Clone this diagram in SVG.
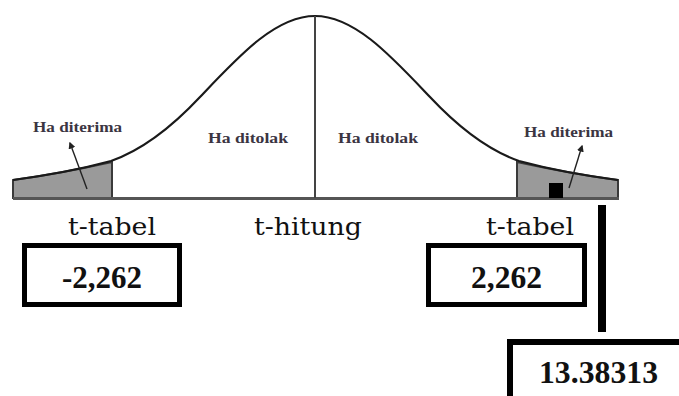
<svg xmlns="http://www.w3.org/2000/svg" width="679" height="396" viewBox="0 0 679 396">
<defs>
<style>
.curve{fill:none;stroke:#1a1a1a;stroke-width:2.2}
.shade{fill:#9a9a9a;stroke:#3a3a3a;stroke-width:2}
.base{stroke:#555;stroke-width:3}
.vline{stroke:#444;stroke-width:2}
.ha{font-family:"Liberation Serif",serif;font-weight:bold;font-size:14px;fill:#3b3542}
.lbl{font-family:"DejaVu Serif","Liberation Serif",serif;font-size:25px;fill:#111}
.val{font-family:"Liberation Serif",serif;font-weight:bold;font-size:32px;fill:#111}
.box{fill:#fff;stroke:#000;stroke-width:5}
.arr{stroke:#222;stroke-width:1.4;fill:none;marker-end:url(#ah)}
</style>
<marker id="ah" viewBox="0 0 10 10" refX="8" refY="5" markerWidth="7" markerHeight="7" orient="auto" markerUnits="userSpaceOnUse"><path d="M0,0 L10,5 L0,10 z" fill="#222"/></marker>
</defs>
<rect width="679" height="396" fill="#fff"/>
<g id="curve">
<path class="shade" d="M13,180 C50,175 85,168 112,162 L112,198 L13,198 Z"/>
<path class="shade" d="M517,162 C545,168 580,175 618,180 L618,198 L517,198 Z"/>
<path class="curve" d="M13,180 C50,175 85,168 111,161 C141,150.5 170,129 200,97 C238,57 275,16 315,16 C355,16 392,57 430,97 C460,129 489,150.5 519,161 C545,168 580,175 618,180"/>
<line class="base" x1="13" y1="198.5" x2="619" y2="198.5"/>
<line class="vline" x1="315" y1="16" x2="315" y2="198"/>
<rect x="549" y="183" width="14" height="15" fill="#000"/>
</g>
<g id="labels-top">
<text class="ha" x="33" y="132" textLength="89" lengthAdjust="spacingAndGlyphs">Ha diterima</text>
<text class="ha" x="208" y="143" textLength="80" lengthAdjust="spacingAndGlyphs">Ha ditolak</text>
<text class="ha" x="338" y="143" textLength="80" lengthAdjust="spacingAndGlyphs">Ha ditolak</text>
<text class="ha" x="524" y="137" textLength="89" lengthAdjust="spacingAndGlyphs">Ha diterima</text>
</g>
<g id="connectors">
<line class="arr" x1="87" y1="189" x2="70" y2="143"/>
<line class="arr" x1="569" y1="188" x2="582" y2="146"/>
<line x1="602" y1="205" x2="602" y2="332" stroke="#000" stroke-width="8"/>
</g>
<g id="t-labels">
<text class="lbl" x="68" y="235" textLength="88" lengthAdjust="spacingAndGlyphs">t-tabel</text>
<text class="lbl" x="254" y="235" textLength="108" lengthAdjust="spacingAndGlyphs">t-hitung</text>
<text class="lbl" x="486" y="235" textLength="88" lengthAdjust="spacingAndGlyphs">t-tabel</text>
</g>
<g id="box-left">
<rect class="box" x="24.5" y="245.5" width="155" height="59"/>
<text class="val" x="62" y="288" textLength="80" lengthAdjust="spacingAndGlyphs">-2,262</text>
</g>
<g id="box-right">
<rect class="box" x="428.5" y="245.5" width="156" height="59"/>
<text class="val" x="471" y="288" textLength="71" lengthAdjust="spacingAndGlyphs">2,262</text>
</g>
<g id="box-bottom">
<rect x="510" y="342" width="200" height="80" fill="#fff" stroke="#000" stroke-width="6"/>
<text class="val" x="539" y="383" textLength="119" lengthAdjust="spacingAndGlyphs">13.38313</text>
</g>
</svg>
